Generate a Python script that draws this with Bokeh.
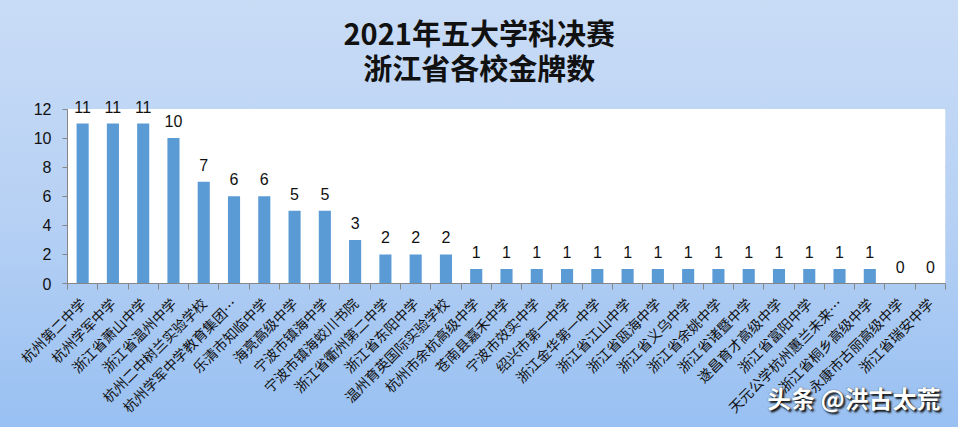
import math
from bokeh.plotting import figure
from bokeh.layouts import column
from bokeh.models import (Range1d, LinearAxis, CategoricalAxis, FixedTicker, ColumnDataSource,
                          LabelSet, BoxAnnotation, Div)
from bokeh.core.properties import value
from bokeh.embed import file_html
from bokeh.resources import INLINE

schools = [
    "杭州第二中学", "杭州学军中学", "浙江省萧山中学", "浙江省温州中学", "杭州二中树兰实验学校",
    "杭州学军中学教育集团…", "乐清市知临中学", "海亮高级中学", "宁波市镇海中学", "宁波市镇海蛟川书院",
    "浙江省衢州第二中学", "浙江省东阳中学", "温州育英国际实验学校", "杭州市余杭高级中学", "苍南县嘉禾中学",
    "宁波市效实中学", "绍兴市第一中学", "浙江金华第一中学", "浙江省江山中学", "浙江省瓯海中学",
    "浙江省义乌中学", "浙江省余姚中学", "浙江省诸暨中学", "遂昌育才高级中学", "浙江省富阳中学",
    "天元公学杭州蕙兰未来…", "浙江省桐乡高级中学", "永康市古丽高级中学", "浙江省瑞安中学",
]
medals = [11, 11, 11, 10, 7, 6, 6, 5, 5, 3, 2, 2, 2, 1, 1, 1, 1, 1, 1, 1, 1, 1, 1, 1, 1, 1, 1, 0, 0]
y_ticks = [0, 2, 4, 6, 8, 10, 12]
title_lines = ["2021年五大学科决赛", "浙江省各校金牌数"]
watermark = "头条 @洪古太荒"

FONT = "Noto Sans CJK SC"
GRID = "#868686"

src = ColumnDataSource(dict(x=schools, top=medals, lab=[str(m) for m in medals]))

p = figure(width=958, height=427, x_range=schools, y_range=Range1d(0, 13),
           output_backend="svg", toolbar_location=None, x_axis_location=None,
           min_border_left=67, min_border_right=13, min_border_top=94, min_border_bottom=144)

# two-line title; the shorter second line is padded so both lines appear centred
p.title.text = title_lines[0] + "\n" + "\u00a0\u00a0\u00a0" + title_lines[1]
p.title.align = "left"
p.title.offset = 276
p.title.standoff = 13
p.title.text_font = FONT
p.title.text_font_size = "29px"
p.title.text_font_style = "bold"
p.title.text_color = "#111111"
p.title.text_line_height = 0.83

p.border_fill_alpha = 0
p.background_fill_alpha = 0
p.styles = {"background": "linear-gradient(to bottom, #C9DCF6 0%, #B7D1F4 50%, #98C0F2 100%)"}
p.outline_line_color = None

# white plot area spanning the value axis 0..12
p.add_layout(BoxAnnotation(bottom=y_ticks[0], top=y_ticks[-1], fill_color="white", fill_alpha=1,
                           line_color=None, level="underlay"))

p.vbar(x="x", top="top", width=0.4, source=src, color="#5B9BD5", line_color=None)

p.add_layout(LabelSet(x="x", y="top", text="lab", source=src, text_align="center",
                      text_baseline="bottom", y_offset=11, text_font_size="16px",
                      text_font=value("Liberation Sans"), text_color="#111111"))

# y axis
ya = p.yaxis[0]
ya.ticker = FixedTicker(ticks=y_ticks)
ya.bounds = (y_ticks[0], y_ticks[-1])
ya.axis_line_color = GRID
ya.major_tick_line_color = GRID
ya.major_tick_out = 5
ya.major_tick_in = 0
ya.minor_tick_line_color = None
ya.major_label_text_font_size = "16px"
ya.major_label_text_font = "Liberation Sans"
ya.major_label_text_color = "#111111"
ya.major_label_standoff = 11
p.ygrid.ticker = FixedTicker(ticks=y_ticks)
p.ygrid.grid_line_color = GRID
p.xgrid.grid_line_color = None

# boundary ticks for x axis (category boundaries in the range's synthetic coordinates)
bounds = list(range(len(schools) + 1))
tick_axis = LinearAxis(ticker=FixedTicker(ticks=bounds),
                       major_tick_out=6, major_tick_in=0, minor_tick_line_color=None,
                       major_label_text_font_size="0px", major_label_standoff=0,
                       axis_line_color=GRID, major_tick_line_color=GRID)
tick_axis.major_label_overrides = {i: "" for i in bounds}
p.add_layout(tick_axis, "below")

cat_axis = CategoricalAxis(axis_line_color=None, major_tick_line_color=None,
                           major_label_orientation=math.pi / 4, major_label_standoff=5,
                           major_label_text_font_size="14px", major_label_text_font=FONT,
                           major_label_text_color="#111111")
p.add_layout(cat_axis, "below")

# watermark overlaid on the lower right corner
wm = Div(text=watermark, width=190, height=30, margin=(-44, 0, 0, 767),
         styles={"font-family": FONT, "font-size": "24px", "font-weight": "bold",
                 "color": "white", "text-shadow": "2px 2px 2px #111111, 0 0 1px #333333",
                 "white-space": "nowrap", "line-height": "30px"})

layout = column(p, wm, spacing=0)
open("out.html", "w").write(file_html(layout, INLINE))
